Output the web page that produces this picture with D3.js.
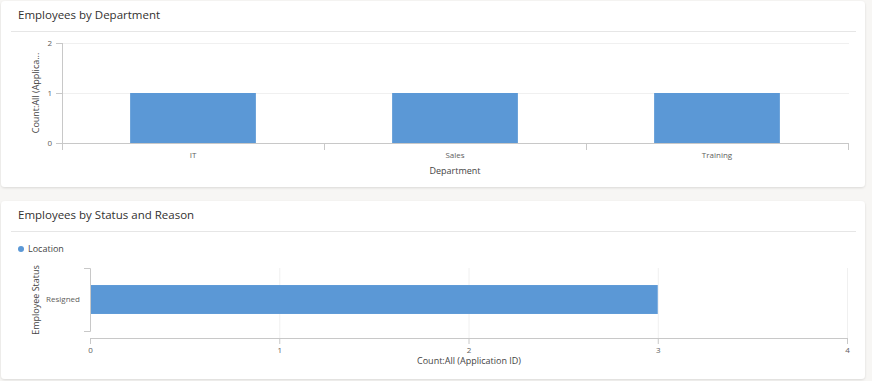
<html>

<head>
    <meta charset="UTF-8">
    <title>Employees</title>
    <style>
        body {
            margin: 0;
            background: #f7f6f4;
            font-family: "Open Sans", "Noto Sans", sans-serif;
        }

        .card {
            fill: #fff;
        }

        .title {
            font-size: 11.5px;
            fill: #323130;
        }

        .axis .domain,
        .axis .tick line {
            stroke: #c8c8c8;
        }

        .axis text {
            font-size: 8px;
            fill: #605e5c;
            font-family: "Open Sans", "Noto Sans", sans-serif;
        }

        .grid line {
            stroke: #f0f0f0;
        }

        .grid .domain {
            display: none;
        }

        .label {
            font-size: 9px;
            fill: #444;
        }

        .bar {
            fill: #5b98d6;
        }
    </style>
    <script src="https://d3js.org/d3.v7.min.js"></script>
</head>

<body>
    <script>
        // chart 1
        var departments = ["IT", "Sales", "Training"]
        var deptCounts = [1, 1, 1]
        var deptTicks = [0, 1, 2]

        // chart 2
        var statuses = ["Resigned"]
        var statusCounts = [3]
        var statusTicks = [0, 1, 2, 3, 4]
        var legendItems = ["Location"]

        var svg = d3.select("body").append("svg")
            .attr("width", 872)
            .attr("height", 381)

        var defs = svg.append("defs")
        var f = defs.append("filter").attr("id", "shadow")
            .attr("x", "-5%").attr("y", "-10%").attr("width", "110%").attr("height", "120%")
        f.append("feDropShadow")
            .attr("dx", 0).attr("dy", 1).attr("stdDeviation", 1)
            .attr("flood-color", "#000").attr("flood-opacity", 0.12)

        function card(y, h, title) {
            svg.append("rect").attr("class", "card")
                .attr("x", 1).attr("y", y).attr("width", 864).attr("height", h)
                .attr("rx", 4).attr("filter", "url(#shadow)")
            svg.append("text").attr("class", "title")
                .attr("x", 18).attr("y", y + 18).text(title)
            svg.append("line")
                .attr("x1", 11).attr("x2", 856)
                .attr("y1", y + 30.5).attr("y2", y + 30.5)
                .attr("stroke", "#e6e6e6")
        }

        card(1, 186, "Employees by Department")
        card(201, 178, "Employees by Status and Reason")

        // ---- Employees by Department ----
        var x1 = d3.scaleBand().domain(departments).range([62, 848]).paddingInner(0.52).paddingOuter(0.26)
        var y1 = d3.scaleLinear().domain([0, 2]).range([143, 43])

        svg.append("g").attr("class", "grid")
            .attr("transform", "translate(62,0)")
            .call(d3.axisLeft(y1).tickValues(deptTicks.slice(1)).tickSize(-787).tickFormat(""))

        svg.selectAll(".bar1").data(departments).enter().append("rect")
            .attr("class", "bar bar1")
            .attr("x", function (d) { return x1(d) })
            .attr("width", x1.bandwidth())
            .attr("y", function (d, i) { return y1(deptCounts[i]) })
            .attr("height", function (d, i) { return y1(0) - y1(deptCounts[i]) })

        svg.append("g").attr("class", "axis")
            .attr("transform", "translate(62,0)")
            .call(d3.axisLeft(y1).tickValues(deptTicks).tickSize(6).tickSizeOuter(0).tickPadding(4).tickFormat(d3.format("d")))
            .select(".domain").attr("d", "M0.5,43V150")

        // band boundary ticks on x axis
        var xAxis1 = svg.append("g").attr("class", "axis")
            .attr("transform", "translate(0,143)")
            .call(d3.axisBottom(x1).tickSize(0).tickPadding(9))
        xAxis1.select(".domain").attr("d", "M62,0.5H848")
        var edges = [62].concat(departments.map(function (d) { return x1(d) + x1.bandwidth() + x1.step() * x1.paddingInner() / 2 }))
        edges[edges.length - 1] = 848
        xAxis1.selectAll(".edge").data(edges).enter().append("line")
            .attr("class", "edge")
            .attr("x1", function (d) { return Math.round(d) + 0.5 }).attr("x2", function (d) { return Math.round(d) + 0.5 })
            .attr("y1", 0).attr("y2", 7).attr("stroke", "#c8c8c8")

        svg.append("text").attr("class", "label")
            .attr("x", 455).attr("y", 174).attr("text-anchor", "middle").text("Department")
        svg.append("text").attr("class", "label")
            .attr("transform", "translate(39,93) rotate(-90)")
            .attr("text-anchor", "middle").text("Count:All (Applica...")

        // ---- Employees by Status and Reason ----
        svg.append("circle").attr("cx", 21).attr("cy", 249).attr("r", 3).attr("fill", "#5b98d6")
        svg.selectAll(".legend").data(legendItems).enter().append("text")
            .attr("class", "label legend")
            .attr("x", 28).attr("y", 252).text(function (d) { return d })

        var x2 = d3.scaleLinear().domain([0, 4]).range([90, 847])
        var y2 = d3.scaleBand().domain(statuses).range([268, 331]).paddingInner(0.1).paddingOuter(0.53)

        svg.append("g").attr("class", "grid")
            .attr("transform", "translate(0,338)")
            .call(d3.axisBottom(x2).tickValues(statusTicks.slice(1)).tickSize(-70).tickFormat(""))

        svg.selectAll(".bar2").data(statuses).enter().append("rect")
            .attr("class", "bar bar2")
            .attr("x", x2(0))
            .attr("y", function (d) { return y2(d) })
            .attr("height", y2.bandwidth())
            .attr("width", function (d, i) { return x2(statusCounts[i]) - x2(0) })

        var yAxis2 = svg.append("g").attr("class", "axis")
            .attr("transform", "translate(90,0)")
            .call(d3.axisLeft(y2).tickSize(0).tickPadding(10))
        yAxis2.select(".domain").attr("d", "M-6,268.5H0.5V331.5H-6")

        svg.append("g").attr("class", "axis")
            .attr("transform", "translate(0,338)")
            .call(d3.axisBottom(x2).tickValues(statusTicks).tickSize(6).tickSizeOuter(0).tickPadding(3).tickFormat(d3.format("d")))

        svg.append("text").attr("class", "label")
            .attr("x", 469).attr("y", 364).attr("text-anchor", "middle").text("Count:All (Application ID)")
        svg.append("text").attr("class", "label")
            .attr("transform", "translate(39,300) rotate(-90)")
            .attr("text-anchor", "middle").text("Employee Status")
    </script>
</body>

</html>
